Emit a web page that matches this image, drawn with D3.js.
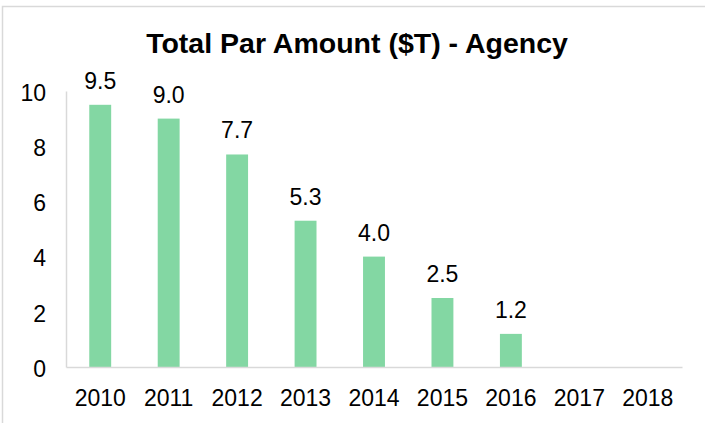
<!DOCTYPE html>
<html>
<head>
<meta charset="utf-8">
<script src="https://cdn.jsdelivr.net/npm/d3@7"></script>
<style>
  body { margin: 0; background: #fff; }
  text { font-family: "Liberation Sans", Arial, sans-serif; fill: #000; }
</style>
</head>
<body>
<div id="plot"></div>
<script>
// chart data
let years = ['2010', '2011', '2012', '2013', '2014', '2015', '2016', '2017', '2018'];
let parAmount = [9.5, 9.0, 7.7, 5.3, 4.0, 2.5, 1.2, null, null];
let yTicks = [0, 2, 4, 6, 8, 10];

let width = 705, height = 423;

let margin = {
  top: 91,
  bottom: 56,
  left: 66,
  right: 23
};

let svg = d3.select('#plot')
  .append('svg')
  .attr('width', width)
  .attr('height', height);

// outer frame (right/bottom edges fall off the picture)
svg.append('rect')
  .attr('x', 2.5)
  .attr('y', 6.5)
  .attr('width', 720)
  .attr('height', 440)
  .attr('fill', 'none')
  .attr('stroke', '#d9d9d9')
  .attr('stroke-width', 1.5);

svg.append('text')
  .attr('x', 357)
  .attr('y', 53)
  .attr('text-anchor', 'middle')
  .style('font-size', '28.5px')
  .style('font-weight', 'bold')
  .text('Total Par Amount ($T) - Agency');

let yScale = d3.scaleLinear()
  .domain([0, 10])
  .range([height - margin.bottom, margin.top]);

let xScale = d3.scaleBand()
  .domain(years)
  .range([margin.left, width - margin.right])
  .paddingInner(0.68)
  .paddingOuter(0.34);

// y axis
let yAxis = svg.append('g')
  .attr('transform', `translate(${margin.left},0)`)
  .call(d3.axisLeft(yScale).tickValues(yTicks).tickSize(0).tickPadding(20));
yAxis.select('.domain').attr('stroke', '#d9d9d9').attr('stroke-width', 1.5);
yAxis.selectAll('text')
  .attr('dy', '0.4em')
  .style('font-size', '23px')
  .style('font-family', '"Liberation Sans", Arial, sans-serif')
  .attr('fill', '#000');

let barData = years.map((y, i) => ({ year: y, value: parAmount[i] })).filter(d => d.value != null);

// bars
svg.selectAll('rect.bar')
  .data(barData)
  .enter()
  .append('rect')
  .attr('class', 'bar')
  .attr('x', d => xScale(d.year))
  .attr('y', d => yScale(d.value))
  .attr('width', xScale.bandwidth())
  .attr('height', d => yScale(0) - yScale(d.value))
  .attr('fill', '#83d7a3');

// value labels
svg.selectAll('text.val')
  .data(barData)
  .enter()
  .append('text')
  .attr('class', 'val')
  .attr('x', d => xScale(d.year) + xScale.bandwidth() / 2)
  .attr('y', d => yScale(d.value) - 16)
  .attr('text-anchor', 'middle')
  .style('font-size', '23px')
  .text(d => d.value.toFixed(1));

// x axis
let xAxis = svg.append('g')
  .attr('transform', `translate(0, ${height - margin.bottom})`)
  .call(d3.axisBottom(xScale).tickSize(0).tickPadding(23));
xAxis.select('.domain').attr('stroke', '#d9d9d9').attr('stroke-width', 1.5);
xAxis.selectAll('text')
  .style('font-size', '23px')
  .style('font-family', '"Liberation Sans", Arial, sans-serif')
  .attr('fill', '#000');
</script>
</body>
</html>
